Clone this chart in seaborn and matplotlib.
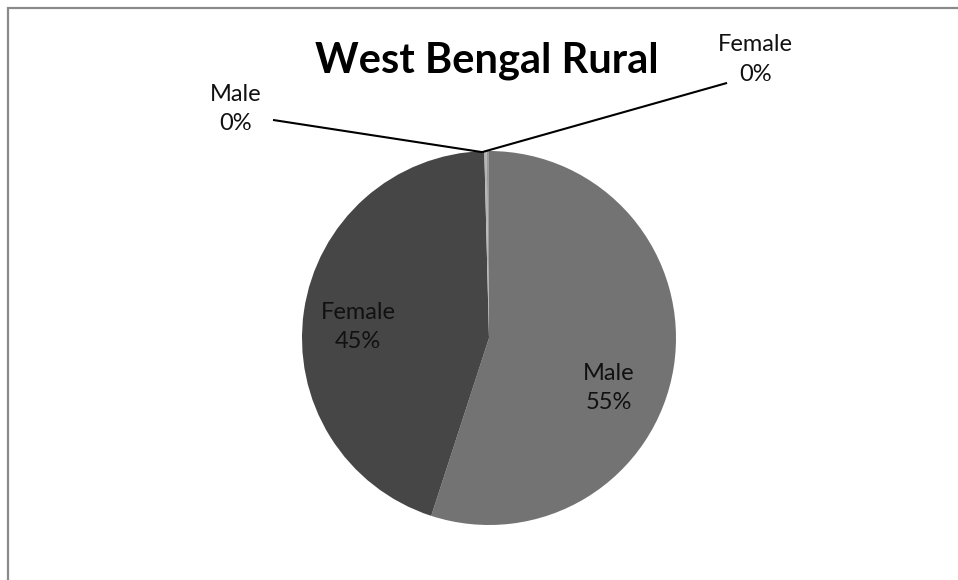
import matplotlib
matplotlib.use("Agg")
import matplotlib.pyplot as plt
from matplotlib.patches import Rectangle
import seaborn as sns

# Rural population share by sex (two groups plus two near-zero categories)
categories = ["Male", "Female", "Male", "Female"]
shares = [55.0, 44.6, 0.2, 0.2]
slice_colors = ["#737373", "#464646", "#b4b4b4", "#9a9a9a"]
title = "West Bengal Rural"

sns.set_theme(style="white")
plt.rcParams["font.family"] = ["Lato", "DejaVu Sans"]

W, H = 958, 580
fig = plt.figure(figsize=(W / 100, H / 100), dpi=100)
fig.patch.set_facecolor("white")

# chart frame (only top and left edges fall inside the image)
fig.patches.append(Rectangle((8 / W, -0.1), 1.2, 1.1 - 8 / H,
                             transform=fig.transFigure, fill=False,
                             edgecolor="#8a8a8a", linewidth=1.6))

# pie axes: centre (489, 338) px, radius 187 px
cx, cy, r = 489, 338, 187
ax = fig.add_axes([(cx - r) / W, (H - cy - r) / H, 2 * r / W, 2 * r / H])
wedges, _ = ax.pie(shares, colors=slice_colors, startangle=90,
                   counterclock=False, radius=1,
                   wedgeprops=dict(linewidth=0))
ax.set_xlim(-1, 1)
ax.set_ylim(-1, 1)
ax.set_aspect("equal")
ax.axis("off")

total = sum(shares)
labels = [f"{c}\n{round(v / total * 100):d}%" for c, v in zip(categories, shares)]

# label placement in pie-radius units
label_pos = [(0.642, -0.267), (-0.70, 0.059), (-1.353, 1.225), (1.425, 1.489)]
leader_start = [None, None, (-1.155, 1.166), (1.273, 1.364)]
leader_end = (-0.037, 0.994)

for lab, pos, start in zip(labels, label_pos, leader_start):
    ax.text(pos[0], pos[1], lab, ha="center", va="center", fontsize=17,
            color="#111111", linespacing=1.5, clip_on=False)
    if start is not None:
        ax.plot([start[0], leader_end[0]], [start[1], leader_end[1]],
                color="black", linewidth=1.5, clip_on=False,
                solid_capstyle="butt")

fig.text(486.5 / W, 1 - 73 / H, title, ha="center", va="baseline",
         fontsize=30, fontweight="bold", color="black")

fig.savefig("out.png", dpi=100)
